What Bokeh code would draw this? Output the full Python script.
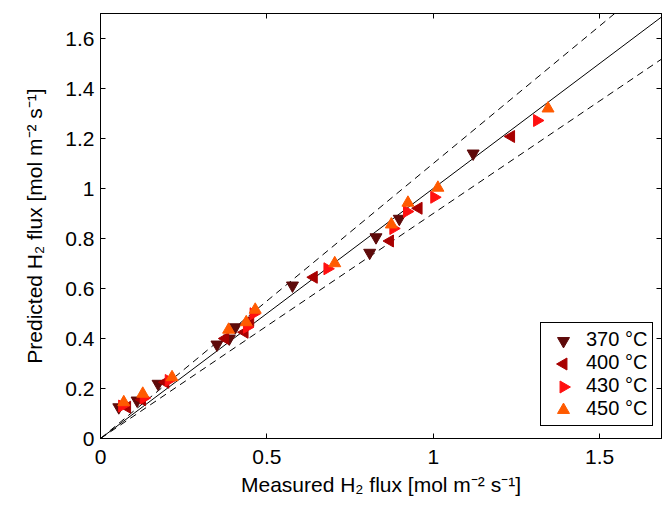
import math
from bokeh.plotting import figure
from bokeh.models import Range1d, FixedTicker, LinearAxis, Legend, LegendItem
from bokeh.embed import file_html
from bokeh.resources import INLINE

# ---- data ----
x_370 = [0.055, 0.11, 0.173, 0.35, 0.387, 0.405, 0.577, 0.809, 0.828, 0.898, 1.12]
y_370 = [0.125, 0.152, 0.219, 0.376, 0.40, 0.445, 0.612, 0.743, 0.805, 0.879, 1.14]

x_400 = [0.08, 0.125, 0.195, 0.375, 0.433, 0.45, 0.641, 0.87, 0.956, 1.234]
y_400 = [0.125, 0.155, 0.225, 0.40, 0.425, 0.472, 0.645, 0.79, 0.921, 1.208]

x_430 = [0.065, 0.13, 0.205, 0.44, 0.46, 0.682, 0.88, 0.921, 1.003, 1.312]
y_430 = [0.13, 0.162, 0.232, 0.445, 0.499, 0.679, 0.84, 0.908, 0.965, 1.272]

x_450 = [0.07, 0.127, 0.215, 0.385, 0.438, 0.465, 0.704, 0.874, 0.924, 1.014, 1.345]
y_450 = [0.145, 0.179, 0.245, 0.435, 0.465, 0.515, 0.701, 0.856, 0.943, 1.003, 1.32]

series_labels = ["370 \u00b0C", "400 \u00b0C", "430 \u00b0C", "450 \u00b0C"]

x_ticks = [0, 0.5, 1, 1.5]
x_tick_labels = ["0", "0.5", "1", "1.5"]
y_ticks = [0, 0.2, 0.4, 0.6, 0.8, 1.0, 1.2, 1.4, 1.6]
y_tick_labels = ["0", "0.2", "0.4", "0.6", "0.8", "1", "1.2", "1.4", "1.6"]

parity_x = [0, 2]
band = 0.10  # +/- 10 % lines

x_title = "Measured H\u2082 flux [mol m\u207b\u00b2 s\u207b\u00b9]"
y_title = "Predicted H\u2082 flux [mol m\u207b\u00b2 s\u207b\u00b9]"

# ---- layout constants ----
W, H = 662, 512
BL, BR, BT, BB = 100, 1, 13, 74
FRAME_W, FRAME_H = W - BL - BR, H - BT - BB
X_END, Y_END = 1.686, 1.7

FONT = "Liberation Sans"
p = figure(width=W, height=H, output_backend="svg", toolbar_location=None,
           x_range=Range1d(0, X_END), y_range=Range1d(0, Y_END),
           min_border_left=BL, min_border_right=BR, min_border_top=BT,
           min_border_bottom=BB)
p.background_fill_color = "white"
p.border_fill_color = "white"
p.outline_line_color = "black"
p.outline_line_width = 1
p.xgrid.visible = False
p.ygrid.visible = False

def style_axis(ax, ticks, labels, show_labels=True):
    ax.ticker = FixedTicker(ticks=ticks)
    ax.major_label_overrides = {t: (l if show_labels else "") for t, l in zip(ticks, labels)}
    ax.major_tick_in = 5
    ax.major_tick_out = 0
    ax.minor_tick_in = 0
    ax.minor_tick_out = 0
    ax.axis_line_color = "black"
    ax.major_tick_line_color = "black"
    ax.major_label_text_font = FONT
    ax.major_label_text_font_size = "21px"
    ax.major_label_text_color = "black"
    ax.axis_label_text_font = FONT
    ax.axis_label_text_font_size = "21px"
    ax.axis_label_text_font_style = "normal"
    ax.axis_label_text_color = "black"

xa = p.xaxis[0]
ya = p.yaxis[0]
style_axis(xa, x_ticks, x_tick_labels)
style_axis(ya, y_ticks, y_tick_labels)
xa.major_label_standoff = 11
ya.major_label_standoff = 6
xa.axis_label = x_title
ya.axis_label = y_title
xa.axis_label_standoff = 6
ya.axis_label_standoff = 16

top_ax = LinearAxis()
style_axis(top_ax, x_ticks, x_tick_labels, show_labels=False)
top_ax.major_label_text_font_size = "0px"
p.add_layout(top_ax, "above")
right_ax = LinearAxis()
style_axis(right_ax, y_ticks, y_tick_labels, show_labels=False)
right_ax.major_label_text_font_size = "0px"
p.add_layout(right_ax, "right")

# ---- reference lines ----
p.line(parity_x, parity_x, line_color="black", line_width=1)
p.line(parity_x, [v * (1 + band) for v in parity_x], line_color="black",
       line_width=1, line_dash="7 5")
p.line(parity_x, [v * (1 - band) for v in parity_x], line_color="black",
       line_width=1, line_dash="7 5")

# ---- markers ----
MS = 12
colors = ["#5e0a0a", "#a80000", "#ff1010", "#ff5a00"]
markers = ["inverted_triangle", "triangle", "triangle", "triangle"]
angles = [0, math.pi / 2, -math.pi / 2, 0]
xs = [x_370, x_400, x_430, x_450]
ys = [y_370, y_400, y_430, y_450]
for xv, yv, c, m, a in zip(xs, ys, colors, markers, angles):
    p.scatter(xv, yv, marker=m, angle=a, size=MS, fill_color=c, line_color=c)

# ---- legend (Bokeh legend glyphs ignore marker angle, so the symbols are
#      drawn under a transparent legend box at its rows) ----
LEG_X, LEG_Y = 440, 12           # offset of legend from frame bottom-left (px)
PAD, GLYPH_W, ROW_H = 5, 36, 23
dummies = [p.scatter([], [], marker="triangle", size=0, fill_alpha=0, line_alpha=0)
           for _ in series_labels]
legend = Legend(items=[LegendItem(label=l, renderers=[r]) for l, r in
                       zip(series_labels, dummies)],
                location=(LEG_X, LEG_Y))
legend.border_line_color = "black"
legend.border_line_width = 1
legend.border_line_alpha = 1
legend.background_fill_alpha = 0
legend.label_text_font = FONT
legend.label_text_font_size = "20px"
legend.label_text_color = "black"
legend.padding = PAD
legend.margin = 0
legend.spacing = 0
legend.glyph_width = GLYPH_W
legend.glyph_height = ROW_H
legend.label_height = ROW_H
legend.label_standoff = 4
p.add_layout(legend, "center")

n = len(series_labels)
leg_h = 2 * PAD + n * ROW_H
sx_leg = LEG_X + PAD + GLYPH_W / 2
for i, (c, m, a) in enumerate(zip(colors, markers, angles)):
    sy_from_bottom = LEG_Y + leg_h - PAD - ROW_H * (i + 0.5)
    lx = X_END * sx_leg / FRAME_W
    ly = Y_END * sy_from_bottom / FRAME_H
    p.scatter([lx], [ly], marker=m, angle=a, size=MS, fill_color=c,
              line_color=c)

open("out.html", "w").write(file_html(p, INLINE))
